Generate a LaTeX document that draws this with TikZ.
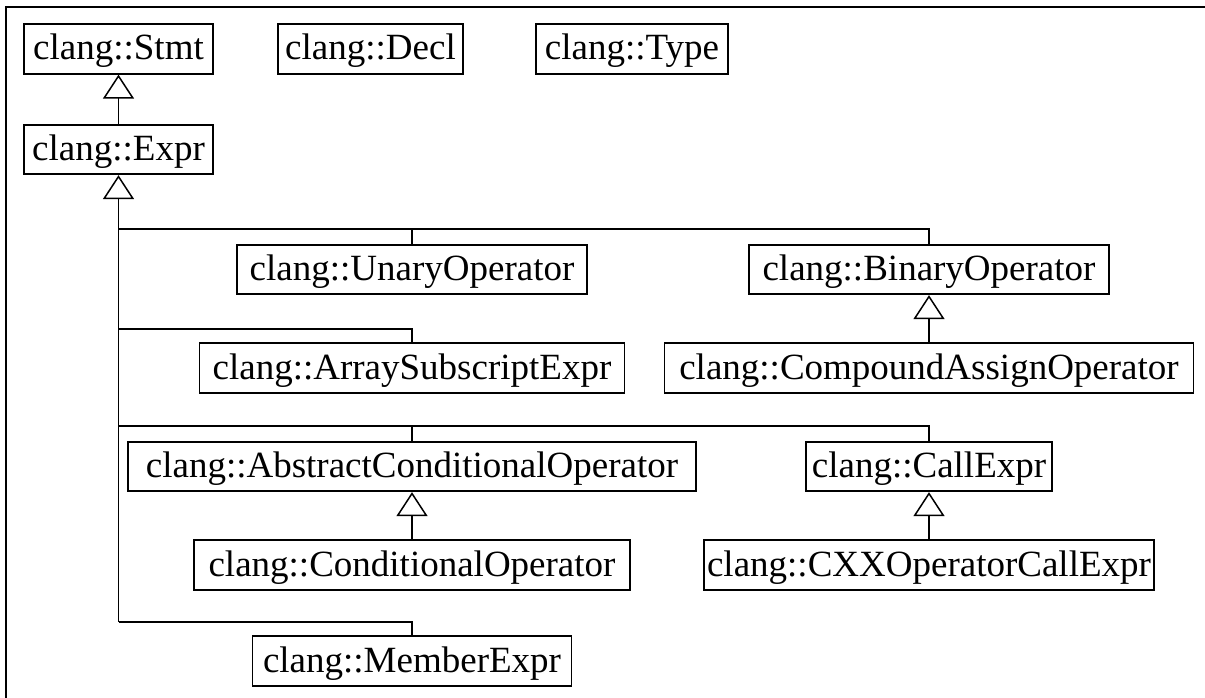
\documentclass[tikz,border=0pt]{standalone}
\usepackage{fontspec}
\setmainfont{Liberation Serif}
\usetikzlibrary{arrows.meta}
\begin{document}
\begin{tikzpicture}[x=1pt,y=-1pt,
  cls/.style={draw, line width=1.8pt, inner sep=0pt, minimum height=49.5pt,
    text height=26pt, text depth=4pt, font=\fontsize{37pt}{44pt}\selectfont},
  conn/.style={line width=1.3pt},
  inh/.style={conn, -{Triangle[open, length=24pt, width=31pt, line width=1.5pt]}},
  frame/.style={line width=1.8pt}]
\useasboundingbox (0,0) rectangle (1205,698);
% frame
\coordinate (fbl) at (6,698);
\coordinate (ftl) at (6,7);
\coordinate (ftr) at (1205,7);
\draw[frame] (fbl) -- (ftl) -- (ftr);
% classes
\node[cls, minimum width=189pt] (stmt) at (118.5,49) {clang::Stmt};
\node[cls, minimum width=185pt] (decl) at (370.5,49) {clang::Decl};
\node[cls, minimum width=192pt] (type) at (632,49) {clang::Type};
\node[cls, minimum width=189pt] (expr) at (118.5,149.5) {clang::Expr};
\node[cls, minimum width=350pt] (unary) at (412,269.5) {clang::UnaryOperator};
\node[cls, minimum width=360pt] (binary) at (929,269.5) {clang::BinaryOperator};
\node[cls, minimum width=425pt] (array) at (412,368) {clang::ArraySubscriptExpr};
\node[cls, minimum width=529pt] (compound) at (929,368) {clang::CompoundAssignOperator};
\node[cls, minimum width=568pt] (abscond) at (412,466.5) {clang::AbstractConditionalOperator};
\node[cls, minimum width=246pt] (call) at (929,466.5) {clang::CallExpr};
\node[cls, minimum width=436pt] (cond) at (412,565) {clang::ConditionalOperator};
\node[cls, minimum width=450pt] (cxx) at (929,565) {clang::CXXOperatorCallExpr};
\node[cls, minimum width=319pt] (member) at (412,661) {clang::MemberExpr};
% branch points on the trunk
\coordinate (b1) at (118.5,229);
\coordinate (b2) at (118.5,329);
\coordinate (b3) at (118.5,426);
\coordinate (b4) at (118.5,622);
% connectors
\draw[inh] (expr.north) -- (stmt.south);
\draw[inh] (b4) -- (expr.south);
\draw[conn] (b1) -| (unary.north);
\draw[conn] (b1) -| (binary.north);
\draw[conn] (b2) -| (array.north);
\draw[conn] (b3) -| (abscond.north);
\draw[conn] (b3) -| (call.north);
\draw[conn] (b4) -| (member.north);
\draw[inh] (compound.north) -- (binary.south);
\draw[inh] (cond.north) -- (abscond.south);
\draw[inh] (cxx.north) -- (call.south);
\end{tikzpicture}
\end{document}
